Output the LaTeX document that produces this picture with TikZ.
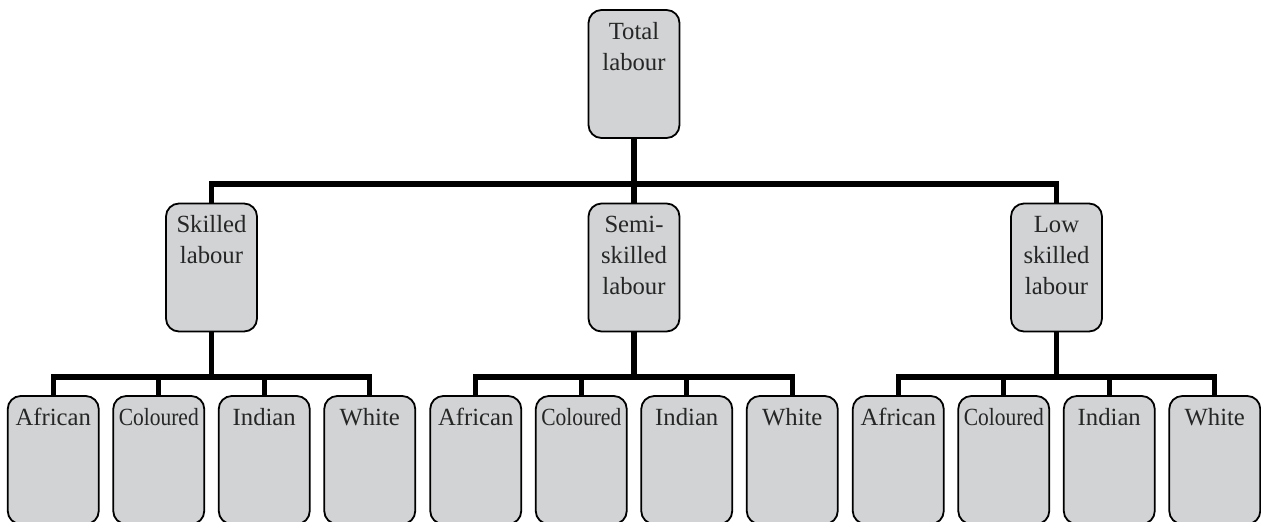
\documentclass[tikz,border=0pt]{standalone}
\usepackage{fontspec}
\setmainfont{Liberation Serif}
\usepackage{xcolor}
\usepackage{tikz}
\usetikzlibrary{calc}
\definecolor{boxgray}{RGB}{209,211,212}
\newcommand{\boxtext}[1]{\parbox[c][56.4pt][t]{45.5pt}{\centering\fontsize{12.35}{15.5}\selectfont\strut #1}}
\tikzset{
	labbox/.style={draw=black, line width=0.9pt, fill=boxgray, rounded corners=6.5pt,
		inner xsep=0pt, inner ysep=3.8pt, text=black!85},
	conn/.style={line width=2.6pt, black}
}

\begin{document}
\begin{tikzpicture}[x=0.5pt, y=-0.5pt]
	\useasboundingbox (0,0) rectangle (1261,521);
	
	% Boxes
	\node[labbox](total) at (634,74) {\boxtext{Total\\labour}};
	
	\node[labbox](skilled) at (211.5,267.5) {\boxtext{Skilled\\labour}};
	\node[labbox](semi) at (634,267.5) {\boxtext{Semi-\\skilled\\labour}};
	\node[labbox](low) at (1056.5,267.5) {\boxtext{Low\\skilled\\labour}};
	
	\node[labbox](sAfr) at (53.25,460) {\boxtext{African}};
	\node[labbox](sCol) at (158.75,460) {\boxtext{\scalebox{0.87}[1]{Coloured}}};
	\node[labbox](sInd) at (264.25,460) {\boxtext{Indian}};
	\node[labbox](sWhi) at (369.75,460) {\boxtext{White}};
	
	\node[labbox](mAfr) at (475.75,460) {\boxtext{African}};
	\node[labbox](mCol) at (581.25,460) {\boxtext{\scalebox{0.87}[1]{Coloured}}};
	\node[labbox](mInd) at (686.75,460) {\boxtext{Indian}};
	\node[labbox](mWhi) at (792.25,460) {\boxtext{White}};
	
	\node[labbox](lAfr) at (898.25,460) {\boxtext{African}};
	\node[labbox](lCol) at (1003.75,460) {\boxtext{\scalebox{0.87}[1]{Coloured}}};
	\node[labbox](lInd) at (1109.25,460) {\boxtext{Indian}};
	\node[labbox](lWhi) at (1214.75,460) {\boxtext{White}};
	
	% Bus bars
	\coordinate[](busT) at (634,184);
	\coordinate[](busS) at (211.5,377);
	\coordinate[](busM) at (634,377);
	\coordinate[](busL) at (1056.5,377);
	
	%% Top level
	\draw[conn] (total.south) -- (semi.north);
	\draw[conn] (skilled.north) |- (busT) -| (low.north);
	
	%% Skilled
	\draw[conn] (skilled.south) -- (busS);
	\draw[conn] (sAfr.north) |- (busS) -| (sWhi.north);
	\draw[conn] (sCol.north) -- (sCol.north |- busS);
	\draw[conn] (sInd.north) -- (sInd.north |- busS);
	
	%% Semi-skilled
	\draw[conn] (semi.south) -- (busM);
	\draw[conn] (mAfr.north) |- (busM) -| (mWhi.north);
	\draw[conn] (mCol.north) -- (mCol.north |- busM);
	\draw[conn] (mInd.north) -- (mInd.north |- busM);
	
	%% Low skilled
	\draw[conn] (low.south) -- (busL);
	\draw[conn] (lAfr.north) |- (busL) -| (lWhi.north);
	\draw[conn] (lCol.north) -- (lCol.north |- busL);
	\draw[conn] (lInd.north) -- (lInd.north |- busL);
	
\end{tikzpicture}
\end{document}
